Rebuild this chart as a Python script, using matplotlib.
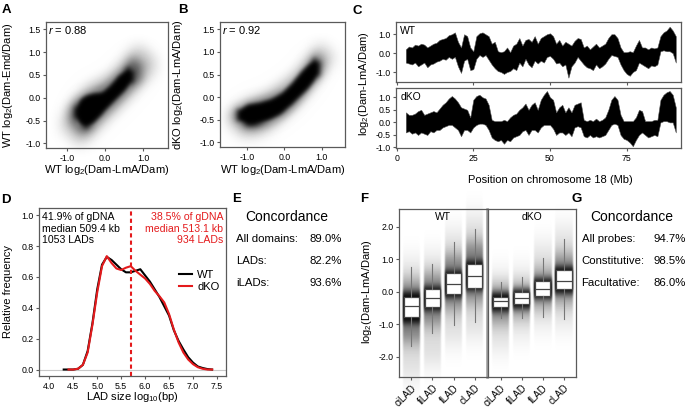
import matplotlib
matplotlib.use("Agg")
import matplotlib.pyplot as plt
import numpy as np

plt.rcParams["font.family"] = ["Liberation Sans", "DejaVu Sans"]
plt.rcParams["mathtext.fontset"] = "custom"
plt.rcParams["mathtext.rm"] = "Liberation Sans"
plt.rcParams["mathtext.it"] = "Liberation Sans:italic"

# ---------------- data ----------------
# A: WT LmA vs WT Emd scatter cloud, outlines of 3 density levels (x, low, high)
a_lvl1_x = [-1.1, -0.9, -0.7, -0.5, -0.25, 0.0, 0.25, 0.5, 0.75, 1.0, 1.25]
a_lvl1_lo = [-0.7, -0.9, -1.0, -0.95, -0.82, -0.62, -0.42, -0.22, 0.0, 0.25, 0.6]
a_lvl1_hi = [-0.45, -0.05, 0.2, 0.35, 0.45, 0.55, 0.75, 0.95, 1.1, 1.1, 0.9]
a_lvl2_x = [-0.92, -0.75, -0.5, -0.25, 0.0, 0.25, 0.5, 0.7, 0.92]
a_lvl2_lo = [-0.5, -0.72, -0.76, -0.64, -0.42, -0.22, -0.02, 0.16, 0.4]
a_lvl2_hi = [-0.22, 0.05, 0.16, 0.25, 0.35, 0.56, 0.76, 0.88, 0.78]
a_lvl3_x = [-0.8, -0.68, -0.5, -0.3, -0.1, 0.1, 0.3, 0.5, 0.62, 0.72]
a_lvl3_lo = [-0.42, -0.6, -0.66, -0.58, -0.4, -0.22, -0.04, 0.12, 0.24, 0.36]
a_lvl3_hi = [-0.2, 0.0, 0.1, 0.14, 0.16, 0.3, 0.5, 0.64, 0.68, 0.6]

# B: WT LmA vs dKO LmA
b_lvl1_x = [-1.5, -1.3, -1.0, -0.6, -0.2, 0.2, 0.5, 0.8, 1.05, 1.25]
b_lvl1_lo = [-0.55, -0.8, -0.85, -0.8, -0.65, -0.4, -0.15, 0.15, 0.5, 0.8]
b_lvl1_hi = [-0.35, -0.1, 0.05, 0.15, 0.35, 0.6, 0.9, 1.1, 1.15, 1.0]
b_lvl2_x = [-1.35, -1.1, -0.8, -0.4, 0.0, 0.3, 0.6, 0.85, 1.0]
b_lvl2_lo = [-0.5, -0.67, -0.68, -0.6, -0.45, -0.22, 0.05, 0.32, 0.58]
b_lvl2_hi = [-0.28, -0.08, -0.02, 0.08, 0.23, 0.48, 0.82, 0.97, 0.87]
b_lvl3_x = [-1.27, -1.0, -0.7, -0.4, -0.1, 0.15, 0.4, 0.6, 0.8, 0.93]
b_lvl3_lo = [-0.52, -0.62, -0.6, -0.52, -0.4, -0.22, -0.02, 0.13, 0.33, 0.5]
b_lvl3_hi = [-0.26, -0.12, -0.08, -0.01, 0.12, 0.32, 0.57, 0.75, 0.87, 0.8]

# C: chromosome 18 profiles, per-Mb envelope (upper / lower)
chr_pos = list(range(3, 92))
wt_hi = [0.2, 0.35, 0.3, 0.45, 0.4, 0.5, 0.45, 0.3, 0.4, 0.5, 0.55, 0.7, 0.75, 0.8, 0.95,
         1.0, 1.1, 0.6, 0.3, 1.0, 0.9, 0.3, 0.1, 0.9, 1.05, 1.1, 1.0, 0.9, 0.5, 0.6,
         0.1, 0.05, 0.1, 0.3, 0.05, 0.4, 0.5, 0.8, 0.4, 0.7, 0.75, 0.6, 0.9, 0.5, 0.8,
         0.9, 1.0, 1.05, 0.9, 0.5, 0.7, 0.4, 0.6, 0.5, 0.4, 0.65, 0.8, 0.75, 0.3, 0.4,
         0.2, 0.35, 0.5, 0.3, 0.4, 0.5, 0.8, 1.0, 1.0, 0.8, 0.3, 0.05, 0.05, 0.1, 0.05,
         0.4, 0.7, 0.3, 0.3, 0.2, 0.3, 0.25, 0.3, 0.9, 1.1, 1.2, 1.4, 1.2, 0.9]
wt_lo = [-0.5, -0.55, -0.6, -0.5, -0.7, -0.6, -0.5, -0.75, -0.6, -0.55, -0.45, -0.4, -0.3,
         -0.35, -0.2, -0.3, -0.2, -0.7, -1.05, -0.4, -0.3, -0.9, -0.85, -0.3, -0.1, -0.2,
         -0.1, -0.35, -0.6, -0.8, -0.95, -1.0, -1.1, -1.0, -0.95, -0.8, -0.9, -0.5, -0.7,
         -0.3, -0.6, -0.75, -0.4, -0.55, -0.4, -0.5, -0.2, -0.15, -0.3, -0.55, -0.5, -0.7,
         -0.6, -1.3, -0.7, -0.5, -0.2, -0.4, -0.6, -0.75, -0.8, -0.9, -0.6, -0.8, -0.7,
         -0.55, -0.3, -0.1, -0.15, -0.2, -0.6, -0.9, -1.1, -1.2, -1.0, -0.9, -0.5, -0.6,
         -0.7, -0.8, -0.65, -0.7, -0.6, 0.1, 0.15, 0.1, 0.1, 0.0, -0.5]
dko_hi = [0.4, 0.3, 0.3, 0.35, 0.45, 0.5, 0.3, 0.35, 0.4, 0.45, 0.4, 0.55, 0.7, 0.8, 0.95,
          1.05, 0.95, 0.8, 0.6, 0.55, 0.5, 0.2, 0.9, 1.05, 1.1, 1.0, 0.95, 0.7, 0.1, 0.05,
          0.05, 0.05, 0.1, 0.05, 0.2, 0.3, 0.35, 0.5, 0.6, 0.75, 0.5, 0.7, 0.8, 0.5, 0.9,
          1.1, 1.25, 1.0, 0.9, 0.4, 0.6, 0.7, 0.4, 0.6, 0.4, 0.7, 0.75, 0.8, 0.1, 0.05,
          0.1, 0.05, 0.15, 0.05, 0.1, 0.2, 0.5, 0.9, 1.05, 0.9, 0.3, 0.05, 0.05, 0.05, 0.05,
          0.2, 0.5, 0.45, 0.05, 0.05, 0.05, 0.1, 0.1, 0.9, 1.1, 1.2, 1.25, 1.1, 0.6]
dko_lo = [-0.4, -0.35, -0.45, -0.4, -0.5, -0.4, -0.45, -0.5, -0.35, -0.4, -0.3, -0.3, -0.2,
          -0.15, -0.1, -0.1, -0.2, -0.3, -0.55, -0.3, -0.3, -0.4, -0.2, -0.1, -0.05, -0.05,
          -0.1, -0.3, -0.6, -0.7, -0.75, -0.7, -0.85, -0.7, -0.75, -0.6, -0.55, -0.5, -0.35,
          -0.3, -0.5, -0.3, -0.3, -0.4, -0.2, -0.1, -0.1, -0.1, -0.25, -0.5, -0.4, -0.4,
          -0.5, -0.4, -0.55, -0.2, -0.15, -0.2, -0.55, -0.6, -0.5, -0.6, -0.55, -0.6, -0.55,
          -0.5, -0.3, -0.1, -0.05, -0.1, -0.5, -0.65, -0.7, -0.8, -0.95, -0.7, -0.5, -0.4,
          -0.5, -0.6, -0.55, -0.5, -0.55, 0.0, 0.05, 0.05, 0.0, 0.0, -0.4]

# D: LAD size densities
lad_x = [4.3, 4.4, 4.5, 4.6, 4.7, 4.8, 4.9, 5.0, 5.1, 5.2, 5.3, 5.4, 5.5, 5.6, 5.7, 5.8,
         5.9, 6.0, 6.1, 6.2, 6.3, 6.4, 6.5, 6.6, 6.7, 6.8, 6.9, 7.0, 7.1, 7.2, 7.3, 7.4]
wt_dens = [0.0, 0.0, 0.0, 0.005, 0.03, 0.12, 0.30, 0.52, 0.68, 0.73, 0.71, 0.68, 0.65,
           0.63, 0.63, 0.64, 0.65, 0.61, 0.57, 0.52, 0.47, 0.41, 0.35, 0.255, 0.185, 0.13,
           0.08, 0.045, 0.02, 0.01, 0.003, 0.0]
dko_dens = [None, 0.0, 0.0, 0.005, 0.03, 0.11, 0.29, 0.5, 0.67, 0.735, 0.69, 0.655, 0.645,
            0.66, 0.67, 0.64, 0.615, 0.59, 0.555, 0.51, 0.475, 0.435, 0.36, 0.26, 0.175,
            0.11, 0.065, 0.035, 0.015, 0.005, 0.0, 0.0]
lad_median = 5.707
wt_info = ["41.9% of gDNA", "median 509.4 kb", "1053 LADs"]
dko_info = ["38.5% of gDNA", "median 513.1 kb", "934 LADs"]

# E / G: concordance tables
e_rows = ["All domains:", "LADs:", "iLADs:"]
e_vals = ["89.0%", "82.2%", "93.6%"]
g_rows = ["All probes:", "Constitutive:", "Facultative:"]
g_vals = ["94.7%", "98.5%", "86.0%"]

# F: box plots per domain class
classes = ["ciLAD", "fiLAD", "fLAD", "cLAD"]
wt_box = {
    "q1": [-0.77, -0.46, -0.07, 0.12], "med": [-0.45, -0.2, 0.24, 0.48],
    "q3": [-0.17, 0.07, 0.57, 0.84], "lo": [-1.67, -1.28, -1.02, -0.94],
    "hi": [0.76, 0.86, 1.52, 1.92]}
dko_box = {
    "q1": [-0.47, -0.38, -0.13, 0.08], "med": [-0.3, -0.2, 0.07, 0.34],
    "q3": [-0.15, -0.01, 0.34, 0.67], "lo": [-0.82, -0.82, -0.79, -0.85],
    "hi": [0.31, 0.44, 1.05, 1.61]}
# point clouds behind boxes: (faint, mid, dense) ranges
wt_cloud = [[(-2.6, 0.9), (-1.5, 0.3), (-0.95, 0.0)],
            [(-2.2, 1.1), (-1.0, 0.5), (-0.55, 0.15)],
            [(-1.5, 1.8), (-0.5, 1.1), (-0.15, 0.65)],
            [(-1.3, 2.3), (-0.3, 1.5), (0.05, 0.95)]]
dko_cloud = [[(-1.7, 0.5), (-0.9, 0.1), (-0.6, -0.05)],
             [(-1.3, 0.6), (-0.7, 0.15), (-0.5, 0.05)],
             [(-1.0, 1.4), (-0.4, 0.6), (-0.2, 0.4)],
             [(-1.0, 1.9), (-0.3, 1.1), (-0.05, 0.75)]]

# ---------------- drawing ----------------
W, H = 689, 413
fig = plt.figure(figsize=(W / 100, H / 100), dpi=100)
SP = "#5a5a5a"


def rect(l, t, r, b):
    return [l / W, 1 - b / H, (r - l) / W, (b - t) / H]


def ftext(x, y, s, **kw):
    fig.text(x / W, 1 - y / H, s, **kw)


def style(ax):
    for s in ax.spines.values():
        s.set_color(SP)
        s.set_linewidth(0.9)
    ax.tick_params(labelsize=6.3, length=2.5, width=0.8, color=SP, pad=1.5)


def gauss(s):
    r = int(3 * s) + 1
    t = np.arange(-r, r + 1)
    k = np.exp(-0.5 * (t / s) ** 2)
    return k / k.sum(), r


class Blur:
    # soft edges for the point clouds
    def __init__(self, sx, sy):
        self.kx, self.rx = gauss(sx)
        self.ky, self.ry = gauss(sy)

    def __call__(self, im, dpi):
        p = np.pad(im, ((self.ry, self.ry), (self.rx, self.rx), (0, 0)))
        out = np.zeros_like(p)
        for i, w in enumerate(self.kx):
            out += w * np.roll(p, i - self.rx, axis=1)
        out2 = np.zeros_like(out)
        for i, w in enumerate(self.ky):
            out2 += w * np.roll(out, i - self.ry, axis=0)
        return out2, -self.rx, -self.ry


def cloud(ax, levels):
    alphas = [0.3, 0.6, 1.0]
    sig = [5, 3.5, 1.8]
    for (x, lo, hi), a, s in zip(levels, alphas, sig):
        pc = ax.fill_between(x, lo, hi, color="k", alpha=a, lw=0)
        pc.set_agg_filter(Blur(s, s))


# A
axA = fig.add_axes(rect(46, 22, 168, 148))
cloud(axA, [(a_lvl1_x, a_lvl1_lo, a_lvl1_hi), (a_lvl2_x, a_lvl2_lo, a_lvl2_hi),
            (a_lvl3_x, a_lvl3_lo, a_lvl3_hi)])
axA.set_xlim(-1.54, 1.64)
axA.set_ylim(-1.10, 1.66)
axA.set_xticks([-1, 0, 1], ["-1.0", "0.0", "1.0"])
axA.set_yticks([-1, -0.5, 0, 0.5, 1, 1.5], ["-1.0", "-0.5", "0.0", "0.5", "1.0", "1.5"])
style(axA)
ftext(48, 30.5, "$r$ = 0.88", fontsize=8, va="center")
ftext(107, 170, "WT log$_2$(Dam-LmA/Dam)", fontsize=8, ha="center", va="center")
ftext(8.5, 85, "WT log$_2$(Dam-Emd/Dam)", fontsize=8, ha="center", va="center", rotation=90)

# B
axB = fig.add_axes(rect(220, 22, 345, 147))
cloud(axB, [(b_lvl1_x, b_lvl1_lo, b_lvl1_hi), (b_lvl2_x, b_lvl2_lo, b_lvl2_hi),
            (b_lvl3_x, b_lvl3_lo, b_lvl3_hi)])
axB.set_xlim(-1.73, 1.63)
axB.set_ylim(-1.10, 1.66)
axB.set_xticks([-1, 0, 1], ["-1.0", "0.0", "1.0"])
axB.set_yticks([-1, -0.5, 0, 0.5, 1, 1.5], ["-1.0", "-0.5", "0.0", "0.5", "1.0", "1.5"])
style(axB)
ftext(222, 30.5, "$r$ = 0.92", fontsize=8, va="center")
ftext(283, 170, "WT log$_2$(Dam-LmA/Dam)", fontsize=8, ha="center", va="center")
ftext(178, 85, "dKO log$_2$(Dam-LmA/Dam)", fontsize=8, ha="center", va="center", rotation=90)

# C
axC1 = fig.add_axes(rect(396, 22, 681, 82))
axC2 = fig.add_axes(rect(396, 88, 681, 148))
for ax, hi, lo, name in [(axC1, wt_hi, wt_lo, "WT"), (axC2, dko_hi, dko_lo, "dKO")]:
    ax.fill_between(chr_pos, lo, hi, color="black", edgecolor="#555555", lw=0.4)
    ax.set_xlim(-0.2, 92.7)
    ax.set_xticks([0, 25, 50, 75])
    style(ax)
    ax.text(0.015, 0.93, name, transform=ax.transAxes, fontsize=7.5, va="top")
axC1.set_ylim(-1.53, 1.65)
axC1.set_yticks([-1, 0, 1], ["-1.0", "0.0", "1.0"])
axC1.tick_params(labelbottom=False)
axC2.set_ylim(-1.02, 1.37)
axC2.set_yticks([-1, -0.5, 0, 0.5, 1], ["-1.0", "-0.5", "0.0", "0.5", "1.0"])
ftext(550, 180, "Position on chromosome 18 (Mb)", fontsize=8, ha="center", va="center")
ftext(364, 84, "log$_2$(Dam-LmA/Dam)", fontsize=8, ha="center", va="center", rotation=90)

# D
axD = fig.add_axes(rect(39.3, 208, 226, 376))
axD.axhline(0, color="#c8c8c8", lw=0.8, zorder=0)
axD.plot(lad_x, wt_dens, color="black", lw=1.5, label="WT")
axD.plot(lad_x, [np.nan if v is None else v for v in dko_dens], color="#e41a1c", lw=1.5,
         label="dKO")
axD.axvline(lad_median, color="#e41a1c", lw=1.5, ls=(0, (2, 1.5)))
axD.set_xlim(3.79, 7.69)
axD.set_ylim(-0.042, 1.047)
axD.set_xticks(np.arange(4.0, 7.6, 0.5), ["4.0", "4.5", "5.0", "5.5", "6.0", "6.5", "7.0", "7.5"])
axD.set_yticks([0, 0.2, 0.4, 0.6, 0.8, 1.0], ["0.0", "0.2", "0.4", "0.6", "0.8", "1.0"])
style(axD)
axD.legend(loc="upper right", bbox_to_anchor=(1.0, 0.67), frameon=False, fontsize=8,
           handlelength=1.1, handletextpad=0.5, labelspacing=0.2, borderaxespad=0.2)
for i, y in enumerate([216.5, 228.5, 240]):
    ftext(41.5, y, wt_info[i], fontsize=7.6, va="center")
    ftext(223, y, dko_info[i], fontsize=7.6, va="center", ha="right", color="#e41a1c")
ftext(132, 397, "LAD size log$_{10}$(bp)", fontsize=8, ha="center", va="center")
ftext(8.5, 292, "Relative frequency", fontsize=8, ha="center", va="center", rotation=90)

# E and G
for x0, rows, vals, xr in [(236, e_rows, e_vals, 342), (581.5, g_rows, g_vals, 685.5)]:
    ftext(x0 + 9, 217, "Concordance", fontsize=10, va="center")
    for i, y in enumerate([239.5, 261.5, 282.5]):
        ftext(x0, y, rows[i], fontsize=8.2, va="center")
        ftext(xr, y, vals[i], fontsize=8.2, va="center", ha="right")

# F
axF1 = fig.add_axes(rect(399.3, 209, 486.7, 377.3))
axF2 = fig.add_axes(rect(488.3, 209, 576, 377.3))
pos = [1, 2, 3, 4]
for ax, box, cl, name in [(axF1, wt_box, wt_cloud, "WT"), (axF2, dko_box, dko_cloud, "dKO")]:
    for p, levels in zip(pos, cl):
        for (lo, hi), a, s in zip(levels, [0.15, 0.45, 1.0], [10, 6, 2.5]):
            pc = ax.fill_between([p - 0.42, p + 0.42], lo, hi, color="black", alpha=a, lw=0)
            pc.set_agg_filter(Blur(0.6, s))
    stats = [{"med": box["med"][i], "q1": box["q1"][i], "q3": box["q3"][i],
              "whislo": box["lo"][i], "whishi": box["hi"][i], "fliers": []} for i in range(4)]
    ax.bxp(stats, positions=pos, widths=0.74, showfliers=False, showcaps=False,
           patch_artist=True,
           boxprops=dict(facecolor="white", edgecolor="#444444", lw=0.9),
           medianprops=dict(color="#444444", lw=0.9),
           whiskerprops=dict(color="#777777", lw=0.8))
    ax.set_xlim(0.42, 4.58)
    ax.set_ylim(-2.63, 2.54)
    ax.set_xticks(pos, classes, rotation=45, ha="right", rotation_mode="anchor")
    style(ax)
    ax.text(0.5, 0.95, name, transform=ax.transAxes, fontsize=7.5, ha="center", va="center")
axF1.set_yticks([-2, -1, 0, 1, 2], ["-2.0", "-1.0", "0.0", "1.0", "2.0"])
axF1.spines["right"].set_color("#999999")
axF1.spines["right"].set_linewidth(1.8)
axF2.tick_params(left=False, labelleft=False)
for ax in (axF1, axF2):
    ax.tick_params(axis="x", labelsize=7)
ftext(366.7, 292, "log$_2$(Dam-LmA/Dam)", fontsize=8, ha="center", va="center", rotation=90)

# panel letters
for lab, x, y in [("A", 6.7, 10), ("B", 182.7, 10), ("C", 357, 11), ("D", 6, 200),
                  ("E", 237, 199), ("F", 364, 199), ("G", 577, 199)]:
    ftext(x, y, lab, fontsize=9.5, weight="bold", ha="center", va="center")

fig.savefig("out.png", dpi=100)
